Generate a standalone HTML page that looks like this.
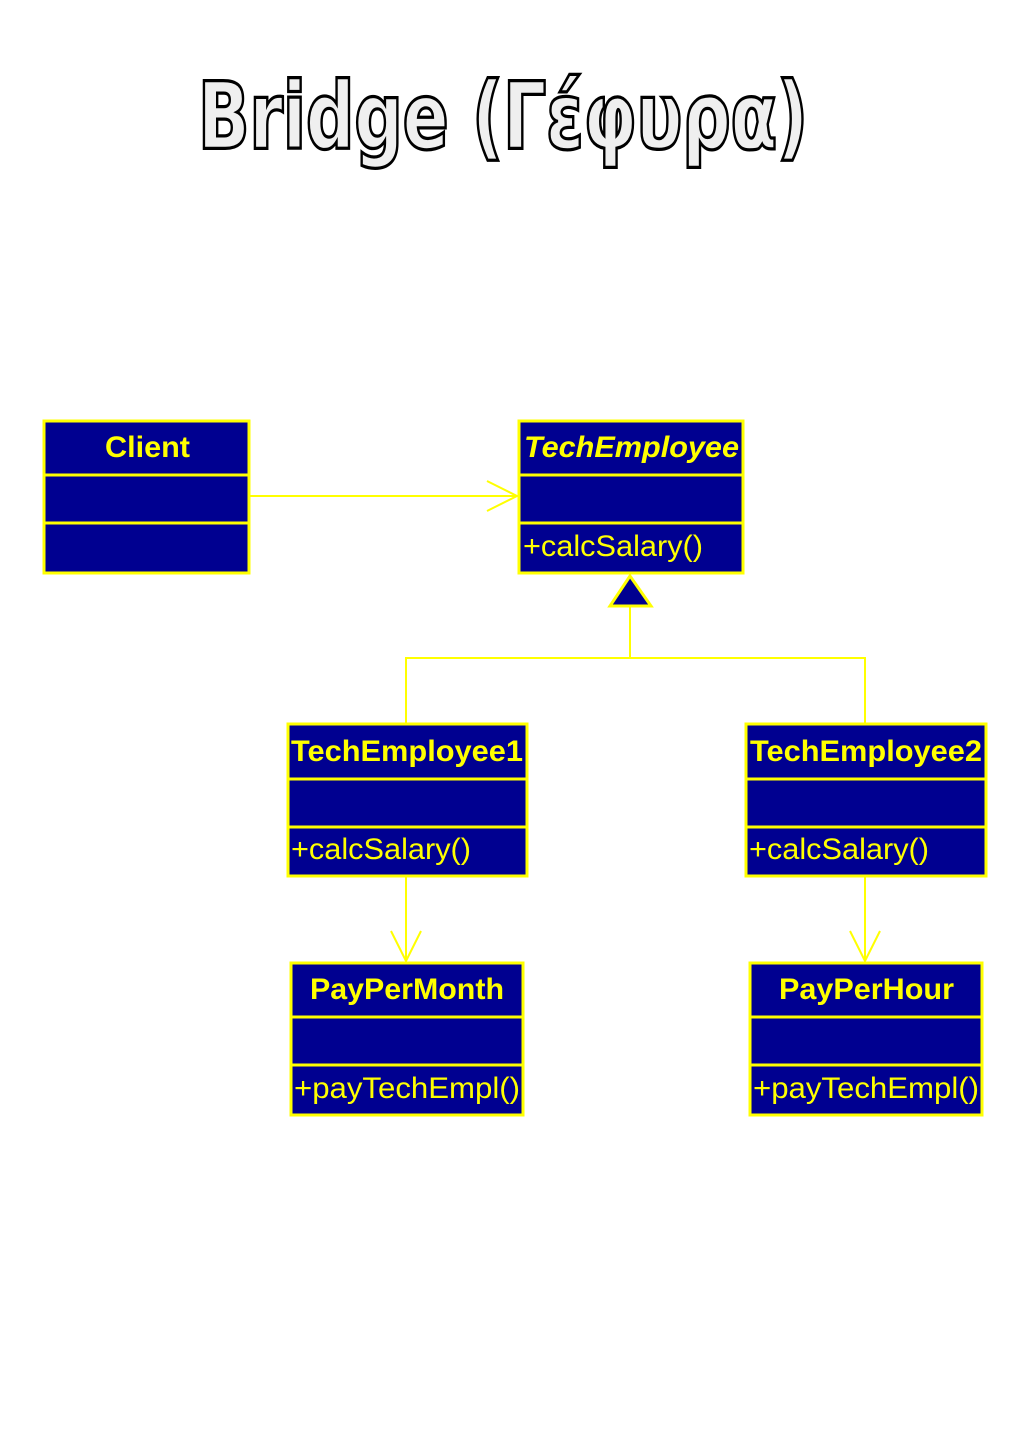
<!DOCTYPE html>
<html><head><meta charset="utf-8"><style>
html,body{margin:0;padding:0;background:#fff;}
svg{display:block;}
</style></head><body>
<svg width="1024" height="1448" viewBox="0 0 1024 1448" xmlns="http://www.w3.org/2000/svg">
<text x="198" y="148" font-family="'DejaVu Sans', 'Liberation Sans', sans-serif" font-weight="bold" font-size="92" fill="#efefef" stroke="#000" stroke-width="4" paint-order="stroke" textLength="610" lengthAdjust="spacingAndGlyphs">Bridge (Γέφυρα)</text>
<text x="198" y="148" font-family="'DejaVu Sans', 'Liberation Sans', sans-serif" font-weight="bold" font-size="92" fill="#efefef" stroke="#000" stroke-width="2.5" textLength="610" lengthAdjust="spacingAndGlyphs">Bridge (Γέφυρα)</text>

<g stroke="#ffff00" stroke-width="3" fill="#000090">
<rect x="44" y="421" width="205" height="152"/><line x1="44" y1="475" x2="249" y2="475"/><line x1="44" y1="523" x2="249" y2="523"/>
<rect x="519" y="421" width="224" height="152"/><line x1="519" y1="475" x2="743" y2="475"/><line x1="519" y1="523" x2="743" y2="523"/>
<rect x="288" y="724" width="239" height="152"/><line x1="288" y1="779" x2="527" y2="779"/><line x1="288" y1="827" x2="527" y2="827"/>
<rect x="746" y="724" width="240" height="152"/><line x1="746" y1="779" x2="986" y2="779"/><line x1="746" y1="827" x2="986" y2="827"/>
<rect x="291" y="963" width="232" height="152"/><line x1="291" y1="1017" x2="523" y2="1017"/><line x1="291" y1="1065" x2="523" y2="1065"/>
<rect x="750" y="963" width="232" height="152"/><line x1="750" y1="1017" x2="982" y2="1017"/><line x1="750" y1="1065" x2="982" y2="1065"/>
</g>
<g stroke="#ffff00" stroke-width="2" fill="none">
<line x1="250" y1="496" x2="517" y2="496"/>
<polyline points="487,481 517,496 487,511"/>
<polyline points="406,723 406,658 865,658 865,723"/>
<line x1="630" y1="606" x2="630" y2="658"/>
<line x1="406" y1="877" x2="406" y2="961"/>
<polyline points="391,931 406,961 421,931"/>
<line x1="865" y1="877" x2="865" y2="961"/>
<polyline points="850,931 865,961 880,931"/>
</g>
<polygon points="630,576 610,606 651,606" fill="#000090" stroke="#ffff00" stroke-width="3"/>

<g font-family="'Liberation Sans', sans-serif" font-size="30" fill="#ffff00">
<text x="105" y="457" font-weight="bold" textLength="85" lengthAdjust="spacingAndGlyphs">Client</text>
<text x="524" y="457" font-weight="bold" font-style="italic" textLength="215" lengthAdjust="spacingAndGlyphs">TechEmployee</text>
<text x="523" y="556" textLength="180" lengthAdjust="spacingAndGlyphs">+calcSalary()</text>
<text x="291" y="761" font-weight="bold" textLength="232" lengthAdjust="spacingAndGlyphs">TechEmployee1</text>
<text x="291" y="859" textLength="180" lengthAdjust="spacingAndGlyphs">+calcSalary()</text>
<text x="750" y="761" font-weight="bold" textLength="232" lengthAdjust="spacingAndGlyphs">TechEmployee2</text>
<text x="749" y="859" textLength="180" lengthAdjust="spacingAndGlyphs">+calcSalary()</text>
<text x="310" y="999" font-weight="bold" textLength="194" lengthAdjust="spacingAndGlyphs">PayPerMonth</text>
<text x="294" y="1098" textLength="226" lengthAdjust="spacingAndGlyphs">+payTechEmpl()</text>
<text x="779" y="999" font-weight="bold" textLength="175" lengthAdjust="spacingAndGlyphs">PayPerHour</text>
<text x="753" y="1098" textLength="226" lengthAdjust="spacingAndGlyphs">+payTechEmpl()</text>
</g>
</svg>
</body></html>
